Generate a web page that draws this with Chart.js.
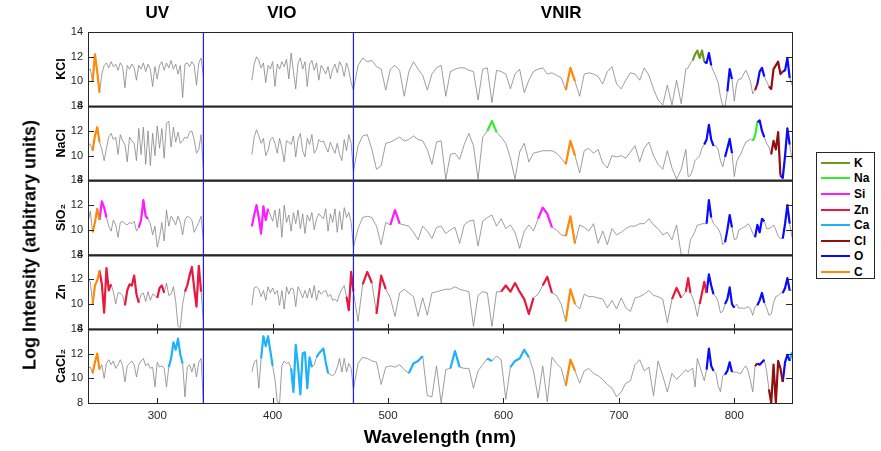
<!DOCTYPE html>
<html lang="en">
<head>
  <meta charset="UTF-8" />
  <title>Emission spectra by sample</title>
  <style>
    body {
      margin: 0;
      background: #fff;
      font-family: 'Liberation Sans', Arial, Helvetica, sans-serif;
    }
    #wrap {
      position: relative;
      width: 881px;
      height: 451px;
    }
    #ylabel {
      position: absolute;
      left: 30px;
      top: 245px;
      transform: translate(-50%, -50%) rotate(-90deg);
      font-weight: bold;
      font-size: 18px;
      color: #000;
      white-space: nowrap;
    }
    #legend {
      position: absolute;
      left: 816px;
      top: 152px;
      width: 59px;
      height: 127px;
      border: 1px solid #262626;
      background: #fff;
      box-sizing: border-box;
      padding-top: 2px;
    }
    .item {
      display: flex;
      align-items: center;
      height: 15.6px;
    }
    .item span.swatch {
      display: inline-block;
      width: 29px;
      height: 2px;
      margin-left: 4px;
      margin-right: 4px;
    }
    .item span.name {
      font-weight: bold;
      font-size: 12px;
      color: #000;
    }
  </style>
</head>
<body>
  <div id="wrap">
    <canvas id="chart" width="881" height="451"></canvas>
    <div id="ylabel">Log Intensity (arbitrary units)</div>
    <div id="legend"></div>
  </div>
  <script src="https://cdn.jsdelivr.net/npm/chart.js"></script>
  <script>
    // wavelength grids (nm) for the three spectrometers
    const uvNm = [
      240,242,244,246,248,250,252,254,256,258,
      260,262,264,266,268,270,272,274,276,278,
      280,282,284,286,288,290,292,294,296,298,
      300,302,304,306,308,310,312,314,316,318,
      320,322,324,326,328,330,332,334,336,338,
      340
    ];
    const vioNm = [
      382,384,386,388,390,392,394,396,398,400,
      402,404,406,408,410,412,414,416,418,420,
      422,424,426,428,430,432,434,436,438,440,
      442,444,446,448,450,452,454,456,458,460,
      462,464,466,468
    ];
    const vnirNm = [
      470,474,478,482,486,490,494,498,502,506,
      510,514,518,522,526,530,534,538,542,546,
      550,554,558,562,566,570,574,578,582,586,
      590,594,598,602,606,610,614,618,622,626,
      630,634,638,642,646,650,654,658,662,666,
      670,674,678,682,686,690,694,698,702,706,
      710,714,718,722,726,730,734,738,742,746,
      750,754,758,
      760,762,764,766,768,770,772,774,776,778,
      780,782,784,786,788,790,792,794,796,798,
      800,802,804,806,808,810,812,814,816,818,
      820,822,824,826,828,830,832,834,836,838,
      840,842,844,846,848,850
    ];

    // log intensity, KCl
    const kclUV = [
      10.9, 11.0, 10.0, 12.2, 10.8, 9.1, 10.6, 11.3, 11.5, 11.1,
      11.6, 11.2, 11.4, 10.9, 11.5, 11.2, 9.5, 11.3, 11.0, 11.4,
      11.1, 10.1, 11.3, 11.0, 11.5, 10.8, 11.4, 11.0, 9.6, 11.2,
      10.2, 11.3, 11.6, 10.9, 11.5, 11.1, 11.7, 11.0, 11.4, 10.6,
      11.3, 8.7, 11.4, 11.5, 11.2, 11.6, 11.3, 9.7, 11.5, 11.9,
      10.4
    ];
    const kclVIO = [
      10.1, 11.4, 12.0, 11.7, 11.1, 11.5, 9.9, 11.3, 11.0, 11.6,
      9.6, 11.4, 11.0, 11.6, 11.2, 11.8, 10.2, 12.3, 10.8, 9.4,
      11.5, 11.9, 11.0, 11.6, 9.6, 11.4, 11.7, 10.9, 11.5, 10.1,
      11.3, 11.0, 10.6, 11.2, 10.2, 11.0, 11.4, 10.7, 11.6, 11.2,
      10.4, 11.5, 10.9, 9.9
    ];
    const kclVNIR = [
      9.3, 11.3, 11.9, 11.6, 11.7, 11.2, 11.0, 9.3, 11.0, 11.3,
      10.9, 8.8, 10.8, 11.6, 11.0, 10.5, 9.3, 10.6, 11.1, 11.3,
      8.8, 10.8, 11.0, 11.1, 11.1, 10.9, 10.8, 8.5, 11.0, 11.1,
      8.3, 10.9, 10.8, 10.6, 9.4, 10.6, 11.0, 9.1, 10.1, 10.8,
      11.0, 11.1, 10.6, 10.7, 10.5, 10.3, 9.3, 11.1, 10.0, 8.8,
      10.6, 10.7, 10.6, 10.4, 9.8, 10.8, 11.2, 9.8, 9.4, 10.1,
      10.7, 10.6, 10.1, 11.1, 10.5, 9.4, 8.5, 8.1, 9.7, 8.1,
      10.1, 8.2, 11.0,
      11.1, 11.5, 11.7, 12.2, 12.5, 11.9, 12.5, 11.6, 11.5, 12.3,
      11.3, 10.8, 10.4, 9.9, 8.8, 8.0, 8.0, 9.2, 11.0, 10.2,
      8.4, 9.8, 10.2, 10.2, 10.6, 10.9, 10.5, 10.0, 9.0, 9.3,
      9.8, 10.8, 11.1, 10.4, 10.0, 9.6, 9.4, 11.0, 11.3, 11.6,
      10.6, 10.8, 10.9, 11.9, 10.3, 9.7
    ];

    // NaCl
    const naclUV = [
      11.0, 10.9, 10.4, 11.6, 12.3, 11.1, 10.5, 9.6, 10.6, 11.5,
      11.8, 11.3, 11.5, 10.1, 11.7, 11.2, 10.9, 9.5, 11.5, 11.2,
      11.0, 9.6, 12.2, 10.1, 12.3, 9.3, 12.0, 9.2, 11.8, 10.0,
      12.4, 10.6, 12.2, 9.8, 12.6, 12.8, 10.7, 12.3, 11.1, 11.9,
      11.0, 11.2, 11.5, 11.4, 11.9, 12.0, 11.3, 10.2, 10.5, 11.7,
      8.9
    ];
    const naclVIO = [
      10.1, 11.5, 12.1, 11.6, 11.0, 11.4, 10.0, 10.4, 11.3, 11.5,
      11.0, 10.2, 11.4, 10.6, 9.5, 11.2, 11.1, 10.9, 11.6, 9.9,
      11.3, 11.8, 10.4, 9.9, 11.4, 10.9, 11.7, 10.2, 10.5, 11.3,
      11.1, 11.2, 10.7, 10.3, 11.1, 10.6, 10.2, 11.0, 10.1, 9.6,
      11.3, 10.4, 11.7, 11.0
    ];
    const naclVNIR = [
      8.7, 10.8, 11.6, 11.7, 10.5, 8.9, 9.2, 11.0, 11.1, 11.3,
      11.5, 11.2, 11.3, 11.6, 11.3, 11.2, 10.5, 9.3, 11.1, 11.2,
      8.1, 10.1, 10.2, 9.7, 10.9, 11.8, 10.8, 8.1, 11.5, 12.0,
      12.8, 11.9, 11.5, 11.0, 9.8, 8.1, 10.3, 11.0, 9.5, 10.2,
      10.3, 10.4, 10.4, 10.4, 10.2, 9.8, 9.3, 11.2, 10.0, 8.6,
      10.4, 10.6, 10.2, 10.5, 9.4, 9.0, 10.0, 9.9, 10.0, 9.8,
      10.3, 10.8, 9.5, 10.6, 11.1, 10.0, 9.3, 8.9, 10.4, 9.0,
      8.1, 8.9, 10.5,
      8.3, 8.4, 8.9, 9.6, 9.8, 10.0, 10.6, 10.9, 11.3, 12.5,
      11.3, 10.8, 10.8, 10.5, 9.6, 9.1, 9.9, 10.6, 11.35, 10.2,
      8.3, 9.5, 9.9, 10.2, 10.7, 11.1, 11.2, 11.35, 11.2, 11.6,
      12.7, 12.85, 12.0, 11.5, 11.0, 10.7, 10.1, 11.2, 10.5, 11.9,
      8.4, 8.2, 10.0, 12.2, 10.9, 9.7
    ];

    // SiO2
    const sio2UV = [
      10.6, 11.5, 9.8, 10.6, 11.7, 10.8, 12.3, 11.8, 11.0, 10.3,
      9.9, 10.8, 10.4, 9.4, 10.6, 10.7, 10.5, 10.4, 10.6, 10.5,
      10.7, 9.9, 10.2, 10.8, 12.4, 11.1, 10.9, 10.5, 9.6, 10.3,
      8.6, 9.4, 10.6, 9.1, 11.6, 10.3, 11.1, 10.8, 10.4, 11.1,
      10.6, 9.6, 10.8, 11.1, 11.0, 10.8, 9.8, 10.2, 10.6, 11.1,
      9.1
    ];
    const sio2VIO = [
      10.3, 11.2, 12.0, 11.0, 9.7, 11.9, 10.8, 11.7, 11.2, 10.7,
      11.6, 10.2, 11.7, 9.4, 12.0, 10.6, 11.2, 9.9, 11.4, 10.5,
      11.6, 10.1, 11.3, 9.7, 11.2, 10.7, 11.4, 10.0, 10.9, 11.3,
      11.1, 10.9, 11.7, 9.9, 11.3, 10.6, 11.7, 9.8, 11.5, 10.0,
      11.8, 11.0, 11.4, 10.6
    ];
    const sio2VNIR = [
      8.6, 10.1, 11.0, 11.1, 11.0, 10.3, 8.8, 10.6, 10.4, 11.6,
      10.5, 10.4, 10.3, 9.8, 9.2, 10.3, 9.9, 9.3, 10.2, 10.3,
      9.7, 10.0, 10.2, 8.9, 10.4, 10.7, 10.8, 8.7, 10.7, 11.0,
      11.2, 10.3, 10.9, 10.1, 10.4, 9.8, 8.5, 9.9, 10.4, 9.9,
      10.9, 11.8, 11.3, 10.2, 10.0, 9.6, 9.5, 11.1, 8.9, 10.4,
      10.2, 9.9, 10.5, 8.9, 9.9, 8.8, 10.1, 9.6, 9.8, 10.1,
      10.3, 10.3, 10.5, 10.5, 10.9, 10.4, 10.1, 9.6, 9.8, 9.2,
      10.4, 8.0, 8.0,
      8.0, 9.2, 9.5, 9.9, 10.4, 10.4, 10.5, 10.5, 10.5, 12.4,
      11.0, 10.5, 10.3, 10.1, 9.7, 8.8, 9.0, 10.0, 11.2, 10.2,
      9.2, 9.3, 10.0, 10.1, 10.2, 10.3, 10.5, 10.2, 9.7, 9.4,
      10.4, 9.8, 10.9, 10.7, 10.1, 10.1, 10.2, 10.4, 10.0, 9.5,
      9.3, 9.3, 10.5, 12.0, 10.5, 9.4
    ];

    // Zn
    const znUV = [
      12.1, 11.8, 10.0, 11.5, 11.9, 12.7, 11.6, 9.3, 12.9, 11.1,
      11.6, 11.0, 10.0, 10.9, 10.9, 10.7, 9.9, 11.1, 11.6, 11.5,
      12.3, 10.8, 10.1, 10.8, 10.9, 10.2, 11.0, 10.3, 10.8, 10.7,
      10.5, 11.3, 11.5, 10.9, 11.7, 10.7, 10.8, 11.4, 10.2, 8.2,
      8.1, 10.0, 11.0, 11.5, 12.3, 13.0, 11.3, 9.8, 13.1, 11.0,
      8.6
    ];
    const znVIO = [
      9.9, 11.3, 11.4, 11.2, 10.6, 11.1, 10.3, 11.4, 10.9, 11.3,
      10.8, 11.1, 9.9, 11.1, 9.6, 11.4, 10.8, 11.3, 11.2, 9.8,
      11.4, 11.0, 10.5, 11.1, 10.5, 11.3, 10.5, 11.5, 10.3, 11.1,
      10.8, 11.0, 11.1, 10.6, 10.8, 10.3, 10.4, 10.2, 10.8, 11.2,
      11.5, 10.6, 9.5, 12.6
    ];
    const znVNIR = [
      11.0, 8.6, 11.6, 12.6, 11.7, 9.2, 12.3, 11.2, 10.5, 9.0,
      10.9, 11.2, 10.9, 10.6, 9.0, 10.5, 9.1, 10.9, 11.0, 11.1,
      11.2, 11.2, 11.4, 11.2, 11.1, 11.0, 8.2, 10.7, 11.0, 10.9,
      8.2, 11.0, 11.0, 11.5, 11.0, 11.7, 11.0, 10.4, 9.2, 10.5,
      10.8, 11.5, 12.2, 10.9, 10.7, 10.0, 8.6, 11.2, 10.0, 9.6,
      10.8, 10.6, 10.6, 10.5, 10.4, 9.7, 10.3, 9.6, 10.5, 9.7,
      9.4, 10.5, 10.6, 10.8, 11.1, 10.7, 10.6, 10.4, 8.5, 10.4,
      11.3, 10.5, 11.0,
      12.1, 10.9, 10.5, 9.9, 9.0, 10.0, 10.9, 11.8, 10.9, 12.4,
      11.5, 10.8, 10.6, 10.2, 9.3, 9.4, 10.0, 10.4, 11.35, 10.0,
      9.7, 10.0, 9.65, 9.7, 9.65, 9.7, 9.8, 9.6, 9.1, 9.8,
      9.9, 10.3, 10.9, 10.1, 9.7, 9.1, 9.2, 10.1, 10.6, 10.7,
      10.9, 10.9, 11.3, 12.1, 11.1, 11.1
    ];

    // CaCl2
    const cacl2UV = [
      10.8, 10.9, 10.4, 11.3, 12.0, 10.7, 11.1, 10.0, 11.2, 11.5,
      11.1, 11.4, 10.8, 11.1, 11.5, 11.0, 9.7, 11.0, 11.2, 11.4,
      11.1, 10.1, 11.1, 11.4, 11.6, 11.0, 11.2, 10.8, 10.9, 9.3,
      11.3, 10.9, 11.0, 10.8, 9.3, 10.9, 11.6, 12.9, 12.3, 13.2,
      11.9, 11.2, 8.5, 10.9, 11.1, 10.5, 11.2, 10.1, 11.3, 11.6,
      8.0
    ];
    const cacl2VIO = [
      10.5, 11.3, 11.5, 9.2, 11.6, 13.4, 12.6, 13.4, 12.2, 11.0,
      9.9, 8.1, 8.0, 11.0, 11.4, 11.2, 11.3, 10.8, 8.9, 12.7,
      11.0, 8.7, 12.0, 12.1, 9.2, 11.7, 10.9, 11.1, 11.7, 12.0,
      12.2, 12.4, 11.3, 10.4, 10.3, 10.2, 10.4, 10.9, 11.6, 10.5,
      11.6, 10.5, 11.2, 10.8
    ];
    const cacl2VNIR = [
      9.1, 11.2, 11.7, 11.6, 11.4, 11.3, 9.5, 10.9, 11.0, 10.9,
      11.1, 10.7, 10.4, 11.2, 11.4, 11.8, 8.6, 8.5, 11.0, 8.0,
      10.7, 10.8, 12.2, 10.9, 10.8, 10.8, 9.2, 10.6, 11.1, 11.6,
      11.4, 11.8, 11.5, 8.3, 10.9, 11.4, 11.6, 12.3, 11.7, 10.6,
      8.4, 11.0, 8.1, 11.7, 11.2, 10.8, 9.4, 11.5, 10.6, 9.6,
      10.6, 10.8, 10.4, 10.2, 9.9, 9.5, 9.2, 8.5, 8.9, 9.6,
      9.8, 11.1, 11.5, 10.6, 10.9, 8.6, 11.4, 10.2, 8.9, 10.4,
      9.9, 10.3, 10.7,
      10.5, 10.7, 10.8, 9.3, 11.6, 11.0, 10.4, 9.8, 10.7, 12.4,
      11.0, 10.6, 10.4, 9.4, 8.9, 10.2, 10.3, 10.6, 11.3, 10.5,
      10.5, 10.5, 10.4, 10.4, 10.8, 11.0, 10.6, 9.8, 8.9, 11.0,
      11.2, 11.1, 11.3, 11.5, 10.6, 9.1, 8.0, 11.1, 8.0, 11.4,
      10.8, 9.7, 11.3, 11.9, 11.4, 12.1
    ];

    // emission lines highlighted in each spectrum: [element, from nm, to nm]
    const kclLines = [['C',244,250],['C',654,662],['K',764,774],['O',774,780],['O',794,798],
      ['Cl',818,820],['O',820,826],['Cl',830,842],['O',842,848]];
    const naclLines = [['C',244,250],['Na',586,594],['C',654,662],['O',774,782],['O',792,798],
      ['Na',816,820],['O',820,826],['Cl',832,840],['O',840,848]];
    const sio2Lines = [['C',244,250],['Si',250,256],['Si',284,292],['Si',382,396],['Si',502,510],
      ['Si',630,642],['C',654,662],['O',776,780],['O',792,798],['O',818,826],['O',842,848]];
    const znLines = [['C',244,250],['Zn',250,260],['Zn',272,284],['Zn',300,306],['Zn',324,338],
      ['Zn',464,470],['Zn',478,486],['Zn',490,498],['Zn',598,626],['Zn',634,642],['C',654,662],
      ['Zn',746,754],['Zn',758,762],['Zn',770,776],['O',776,782],['O',792,800],['O',820,826],['O',842,848]];
    const cacl2Lines = [['C',244,250],['Ca',310,322],['Ca',390,400],['Ca',416,434],['Ca',438,448],
      ['Ca',518,530],['Ca',554,562],['Ca',586,590],['Ca',606,622],['C',654,662],['O',776,782],
      ['O',792,798],['Cl',818,820],['O',820,826],['Cl',830,842],['O',842,848],['Ca',848,850]];

    const sampleNames = ['KCl', 'NaCl', 'SiO\u2082', 'Zn', 'CaCl\u2082'];
    const elements = ['K', 'Na', 'Si', 'Zn', 'Ca', 'Cl', 'O', 'C'];
    const elementColors = ['#6b9a1e', '#36ec2a', '#ff1aff', '#e8193e', '#1db2fb', '#920f0f', '#0a0aff', '#ff8a0a'];
    const regionNames = ['UV', 'VIO', 'VNIR'];
    const regionCenters = [300, 408, 650];
    const dividers = [340, 470];
    const xTicks = [300, 400, 500, 600, 700, 800];
    const yTicks = [8, 10, 12, 14];

    const uvRows = [kclUV, naclUV, sio2UV, znUV, cacl2UV];
    const vioRows = [kclVIO, naclVIO, sio2VIO, znVIO, cacl2VIO];
    const vnirRows = [kclVNIR, naclVNIR, sio2VNIR, znVNIR, cacl2VNIR];
    const lineRows = [kclLines, naclLines, sio2Lines, znLines, cacl2Lines];

    const FONT = "'Liberation Sans', Arial, Helvetica, sans-serif";
    const AXIS = '#262626';

    // legend
    const legend = document.getElementById('legend');
    elements.forEach((el, i) => {
      const row = document.createElement('div');
      row.className = 'item';
      row.innerHTML = '<span class="swatch" style="background:' + elementColors[i] + '"></span><span class="name">' + el + '</span>';
      legend.appendChild(row);
    });

    const datasets = [];
    sampleNames.forEach((name, r) => {
      const axis = 'y' + r;
      const uvPts = uvNm.map((x, i) => ({ x: x, y: uvRows[r][i] }));
      const visNm = vioNm.concat(vnirNm);
      const visVals = vioRows[r].concat(vnirRows[r]);
      const visPts = visNm.map((x, i) => ({ x: x, y: visVals[i] }));
      [uvPts, visPts].forEach(pts => {
        datasets.push({
          data: pts, yAxisID: axis, borderColor: '#858585', borderWidth: 0.8,
          pointRadius: 0, order: 1
        });
      });
      const all = uvPts.concat(visPts);
      lineRows[r].forEach(([el, a, b]) => {
        datasets.push({
          data: all.filter(p => p.x >= a && p.x <= b),
          yAxisID: axis, borderColor: elementColors[elements.indexOf(el)], borderWidth: 2.2,
          pointRadius: 0, order: 0
        });
      });
    });

    const scales = {
      x: {
        type: 'linear', position: 'bottom', min: 240, max: 850,
        afterBuildTicks: s => { s.ticks = xTicks.map(v => ({ value: v })); },
        afterFit: s => { s.height = 48; },
        ticks: { color: AXIS, font: { family: FONT, size: 11.5 }, padding: 6, maxRotation: 0 },
        grid: { display: false, drawTicks: false },
        border: { display: false },
        title: {
          display: true, text: 'Wavelength (nm)', color: '#000',
          font: { family: FONT, size: 19, weight: 'bold' }, padding: { top: 0, bottom: 2 }
        }
      }
    };
    // stacked axes are placed bottom-up, so add the last sample first
    for (let r = sampleNames.length - 1; r >= 0; r--) {
      scales['y' + r] = {
        type: 'linear', position: 'left', stack: 'rows', stackWeight: 1, min: 8, max: 14,
        afterBuildTicks: s => { s.ticks = yTicks.map(v => ({ value: v })); },
        afterFit: s => { s.width = 88; },
        ticks: { color: AXIS, font: { family: FONT, size: 11 }, padding: 5, autoSkip: false },
        grid: { display: false, drawTicks: false },
        border: { display: false },
        title: {
          display: true, text: sampleNames[r], color: '#000',
          font: { family: FONT, size: 12.5, weight: 'bold' }, padding: { top: 54, bottom: 0 }
        }
      };
    }

    function seg(ctx, x1, y1, x2, y2) {
      ctx.beginPath();
      ctx.moveTo(x1, y1);
      ctx.lineTo(x2, y2);
      ctx.stroke();
    }

    const framePlugin = {
      id: 'frame',
      afterDatasetsDraw(chart) {
        const { ctx, chartArea: ca, scales: sc } = chart;
        const x = sc.x;
        ctx.save();

        // boxes and inward ticks
        ctx.strokeStyle = AXIS;
        sampleNames.forEach((n, r) => {
          const s = sc['y' + r];
          ctx.lineWidth = 1;
          ctx.strokeRect(ca.left + 0.5, s.top + 0.5, ca.right - ca.left, s.bottom - s.top);
          yTicks.slice(1, -1).forEach(v => {
            const py = Math.round(s.getPixelForValue(v)) + 0.5;
            seg(ctx, ca.left, py, ca.left + 6, py);
            seg(ctx, ca.right, py, ca.right - 6, py);
          });
        });
        ctx.lineWidth = 2;
        for (let r = 0; r < sampleNames.length - 1; r++) {
          const py = Math.round(sc['y' + r].bottom) + 0.5;
          seg(ctx, ca.left, py, ca.right, py);
        }
        ctx.lineWidth = 1;
        const zn = sc['y3'], ca2 = sc['y4'];
        xTicks.forEach(v => {
          const px = Math.round(x.getPixelForValue(v)) + 0.5;
          seg(ctx, px, zn.bottom, px, zn.bottom - 5);
          seg(ctx, px, ca2.top, px, ca2.top + 5);
          seg(ctx, px, ca2.bottom, px, ca2.bottom - 5);
        });

        // region separators
        ctx.strokeStyle = '#1a1aff';
        ctx.lineWidth = 1.2;
        dividers.forEach(v => {
          const px = x.getPixelForValue(v);
          seg(ctx, px, ca.top + 1, px, ca.bottom);
        });

        // region titles
        ctx.fillStyle = '#000';
        ctx.font = 'bold 17px ' + FONT;
        ctx.textAlign = 'center';
        ctx.textBaseline = 'middle';
        regionNames.forEach((t, i) => {
          ctx.fillText(t, x.getPixelForValue(regionCenters[i]), 13);
        });
        ctx.restore();
      }
    };

    new Chart(document.getElementById('chart'), {
      type: 'line',
      data: { datasets: datasets },
      options: {
        responsive: false,
        animation: false,
        events: [],
        layout: { padding: { top: 32, right: 89, bottom: 0, left: 0 } },
        elements: { line: { tension: 0, borderJoinStyle: 'round' }, point: { radius: 0 } },
        plugins: { legend: { display: false }, tooltip: { enabled: false } },
        scales: scales
      },
      plugins: [framePlugin]
    });
  </script>
</body>
</html>
